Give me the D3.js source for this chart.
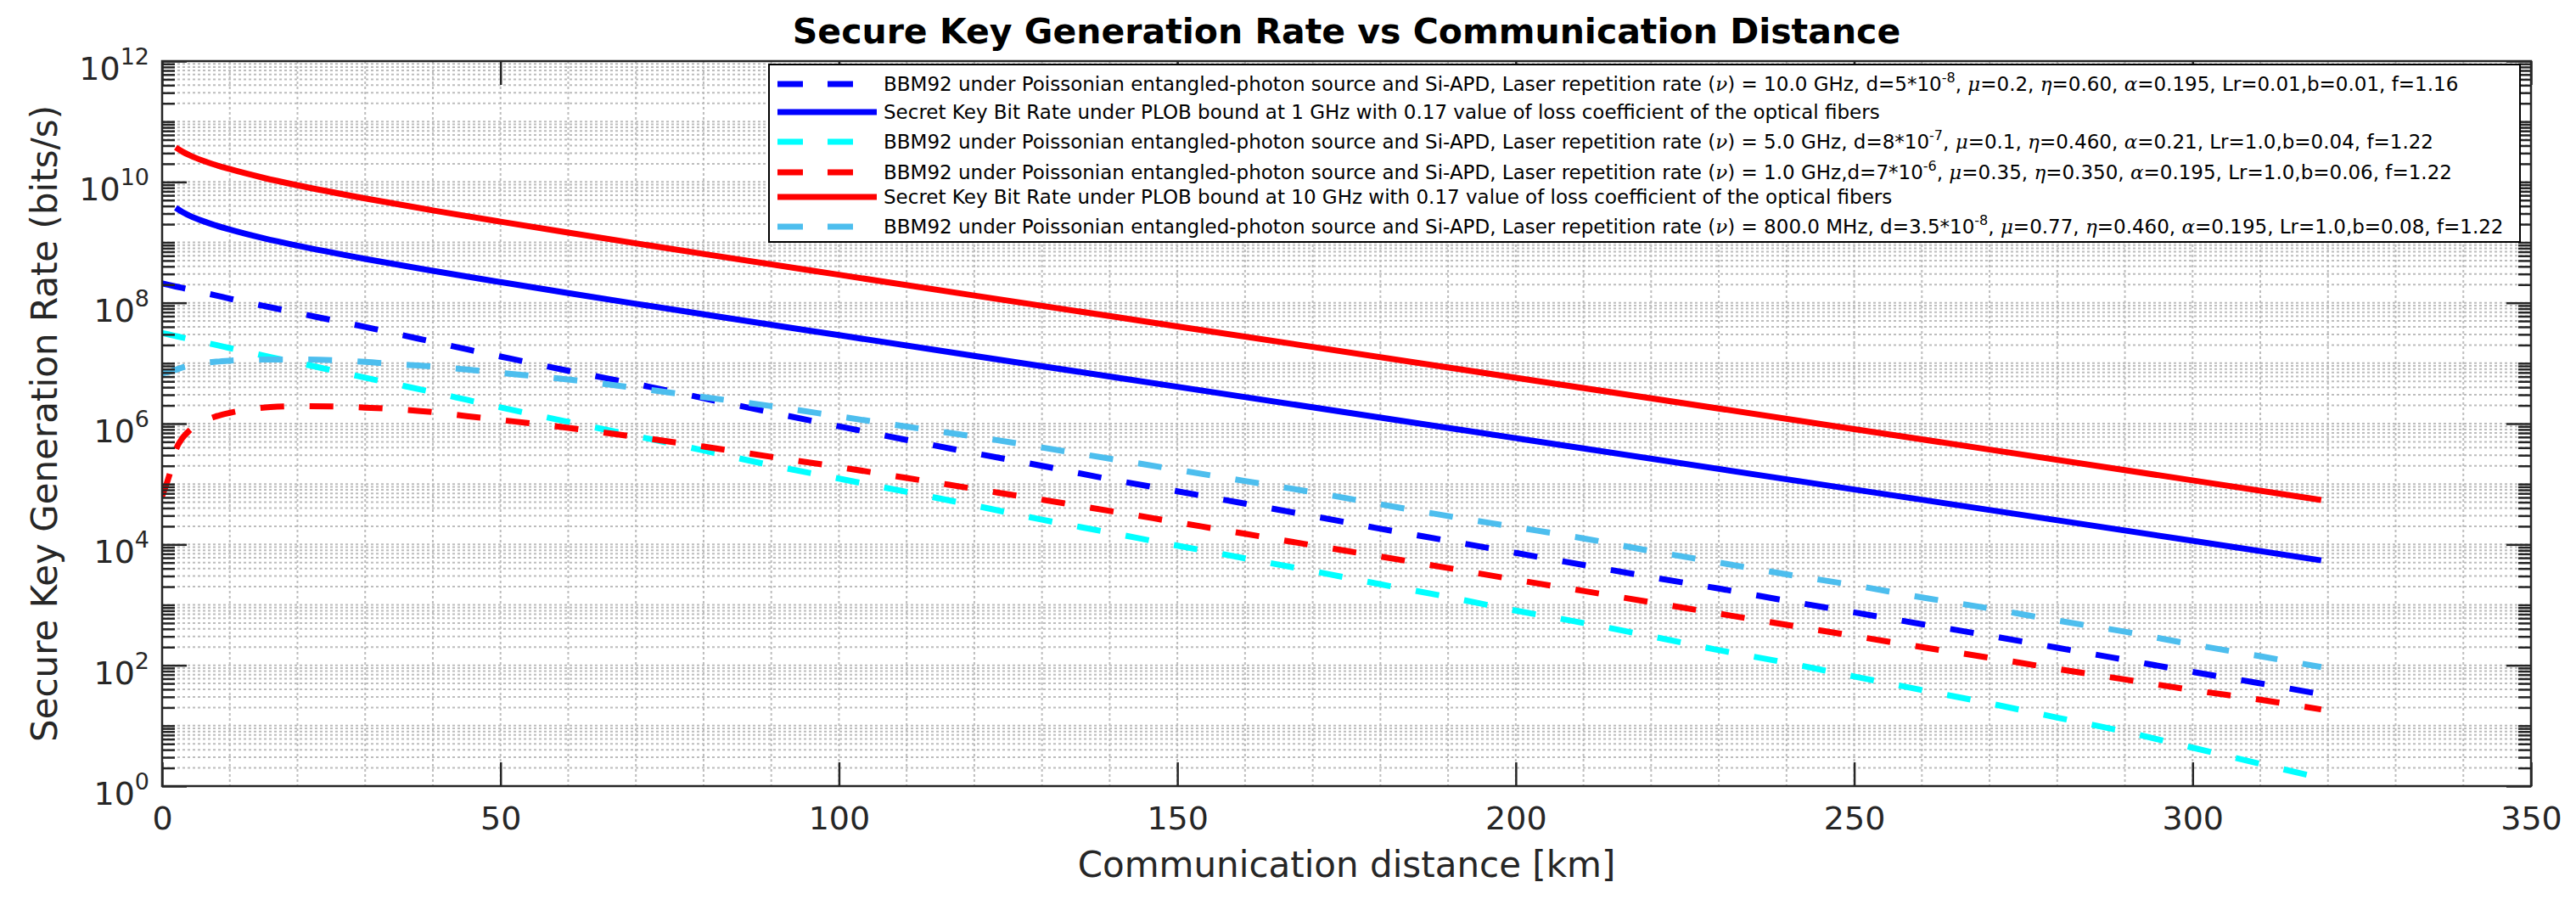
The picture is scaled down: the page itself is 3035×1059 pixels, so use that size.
<!DOCTYPE html>
<html>
<head>
<meta charset="utf-8">
<script src="https://cdn.jsdelivr.net/npm/d3@7"></script>
<style>
body{margin:0;background:#fff}
svg{display:block}
</style>
</head>
<body>
<script>
// distances (km) where the BBM92 curves were read
var distKm = [0,1,2,3,4,6,8,10,13,16,20,25,30,35,40,45,50,60,70,80,90,100,110,120,130,140,150,160,170,180,190,200,210,220,230,240,250,260,270,280,290,300,310,319];

// BBM92, 10.0 GHz (blue dashed)
var bbm10GHz = [2.09e8,1.97e8,1.86e8,1.76e8,1.66e8,1.48e8,1.32e8,1.17e8,9.89e7,8.41e7,6.76e7,5.19e7,3.98e7,2.99e7,2.26e7,1.70e7,
  1.29e7,7.50e6,4.52e6,2.63e6,1.53e6,9.02e5,5.37e5,3.24e5,2.00e5,1.20e5,7.59e4,4.73e4,2.95e4,1.82e4,1.15e4,7.24e3,4.57e3,2.88e3,1.86e3,1.17e3,750,479,309,195,123,77.6,50.1,33.1];
// BBM92, 5.0 GHz (cyan dashed)
var bbm5GHz = [3.16e7,2.99e7,2.82e7,2.66e7,2.51e7,2.24e7,2.00e7,1.78e7,1.50e7,1.26e7,1.02e7,7.67e6,5.75e6,4.37e6,3.31e6,2.48e6,
  1.86e6,1.07e6,6.24e5,3.59e5,2.04e5,1.23e5,7.41e4,4.42e4,2.57e4,1.57e4,9.55e3,5.89e3,3.63e3,2.19e3,1.35e3,804,501,302,178,110,65.3,38.9,23.4,13.6,7.94,4.32,2.34,1.35];
// BBM92, 1.0 GHz (red dashed)
var bbm1GHz = [6.31e4,1.32e5,3.63e5,5.75e5,7.59e5,1.07e6,1.32e6,1.51e6,1.74e6,1.88e6,1.95e6,1.93e6,1.84e6,1.72e6,1.55e6,1.33e6,
  1.15e6,8.51e5,6.03e5,4.17e5,2.82e5,1.91e5,1.26e5,8.32e4,5.50e4,3.59e4,2.32e4,1.50e4,9.66e3,6.31e3,4.07e3,2.60e3,1.70e3,1.10e3,716,468,305,200,133,87.1,58.2,38.9,26.9,18.6];
// BBM92, 800.0 MHz (light blue dashed)
var bbm800MHz = [6.76e6,7.16e6,7.76e6,8.51e6,9.12e6,1.00e7,1.06e7,1.10e7,1.14e7,1.15e7,1.15e7,1.12e7,1.05e7,9.55e6,8.81e6,7.85e6,
  6.92e6,5.37e6,3.89e6,2.75e6,1.95e6,1.32e6,8.91e5,6.10e5,4.03e5,2.63e5,1.72e5,1.12e5,7.33e4,4.62e4,2.95e4,1.93e4,1.26e4,7.76e3,5.01e3,3.20e3,2.11e3,1.33e3,871,550,359,221,141,93.3];

// PLOB bound curves
var plobKm = [2,3,4,5,7,10,15,20,30,40,50,60,70,80,100,120,150,200,250,300,319];
var plob1GHz = [3.73e9,3.18e9,2.79e9,2.49e9,2.06e9,1.63e9,1.17e9,8.81e8,5.33e8,3.38e8,2.20e8,1.45e8,9.63e7,6.44e7,2.91e7,1.32e7,4.07e6,5.74e5,8.11e4,1.15e4,5.45e3];
var plob10GHz = [3.73e10,3.18e10,2.79e10,2.49e10,2.06e10,1.63e10,1.17e10,8.81e9,5.33e9,3.38e9,2.20e9,1.45e9,9.63e8,6.44e8,2.91e8,1.32e8,4.07e7,5.74e6,8.11e5,1.15e5,5.45e4];

var xTicks = [0,50,100,150,200,250,300,350];
var yTickExps = [0,2,4,6,8,10,12];

var legendLabels = [
  "BBM92 under Poissonian entangled-photon source and Si-APD, Laser repetition rate (ν) = 10.0 GHz, d=5*10^{-8}, μ=0.2, η=0.60, α=0.195, Lr=0.01,b=0.01, f=1.16",
  "Secret Key Bit Rate under PLOB bound at 1 GHz with 0.17 value of loss coefficient of the optical fibers",
  "BBM92 under Poissonian entangled-photon source and Si-APD, Laser repetition rate (ν) = 5.0 GHz, d=8*10^{-7}, μ=0.1, η=0.460, α=0.21, Lr=1.0,b=0.04, f=1.22",
  "BBM92 under Poissonian entangled-photon source and Si-APD, Laser repetition rate (ν) = 1.0 GHz,d=7*10^{-6}, μ=0.35, η=0.350, α=0.195, Lr=1.0,b=0.06, f=1.22",
  "Secret Key Bit Rate under PLOB bound at 10 GHz with 0.17 value of loss coefficient of the optical fibers",
  "BBM92 under Poissonian entangled-photon source and Si-APD, Laser repetition rate (ν) = 800.0 MHz, d=3.5*10^{-8}, μ=0.77, η=0.460, α=0.195, Lr=1.0,b=0.08, f=1.22"
];

var W = 3035, H = 1059;
var L = 191, R = 2982, T = 72, B = 926;
var axisColor = "#262626";

var svg = d3.select("body").append("svg").attr("width", W).attr("height", H);

var x = d3.scaleLinear().domain([0, 350]).range([L, R]);
var y = d3.scaleLog().domain([1, 1e12]).range([B, T]);

// grid
var yMinor = [];
for (var k = 0; k < 12; k++) {
  for (var m = 1; m <= 9; m++) {
    if (k === 0 && m === 1) continue;
    yMinor.push(m * Math.pow(10, k));
  }
}
var xMinor = d3.range(10, 350, 10);

var grid = svg.append("g").attr("stroke", "#bdbdbd").attr("stroke-width", 2).attr("stroke-dasharray", "3,3");
grid.selectAll("line.gy").data(yMinor).enter().append("line")
  .attr("x1", L).attr("x2", R)
  .attr("y1", function(d){ return y(d); }).attr("y2", function(d){ return y(d); });
grid.selectAll("line.gx").data(xMinor).enter().append("line")
  .attr("y1", T).attr("y2", B)
  .attr("x1", function(d){ return x(d); }).attr("x2", function(d){ return x(d); });

// curves
svg.append("clipPath").attr("id", "clip").append("rect")
  .attr("x", L).attr("y", T).attr("width", R - L).attr("height", B - T);

var series = [
  {km: distKm, v: bbm10GHz, color: "#0000ff", dash: true},
  {km: plobKm, v: plob1GHz, color: "#0000ff", dash: false},
  {km: distKm, v: bbm5GHz, color: "#00ffff", dash: true},
  {km: distKm, v: bbm1GHz, color: "#ff0000", dash: true},
  {km: plobKm, v: plob10GHz, color: "#ff0000", dash: false},
  {km: distKm, v: bbm800MHz, color: "#4dbeee", dash: true}
];

var line = d3.line()
  .x(function(d){ return x(d[0]); })
  .y(function(d){ return y(d[1]); })
  .curve(d3.curveMonotoneX);

var plot = svg.append("g").attr("clip-path", "url(#clip)");
series.forEach(function(s){
  var pts = s.km.map(function(k, i){ return [k, s.v[i]]; });
  plot.append("path")
    .attr("d", line(pts))
    .attr("fill", "none")
    .attr("stroke", s.color)
    .attr("stroke-width", 7)
    .attr("stroke-dasharray", s.dash ? "28,30" : null);
});

// axes box and ticks
var yMajor = yTickExps.map(function(e){ return Math.pow(10, e); });
var yMinorTicks = yMinor.filter(function(v){ return yMajor.indexOf(v) < 0; });

function styleAxis(g) {
  g.select(".domain").remove();
  g.selectAll("line").attr("stroke", axisColor).attr("stroke-width", 2.5);
}

svg.append("g").attr("transform", "translate(" + L + ",0)")
  .call(d3.axisLeft(y).tickValues(yMajor).tickSize(-29).tickFormat("")).call(styleAxis);
svg.append("g").attr("transform", "translate(" + L + ",0)")
  .call(d3.axisLeft(y).tickValues(yMinorTicks).tickSize(-15).tickFormat("")).call(styleAxis);
svg.append("g").attr("transform", "translate(" + R + ",0)")
  .call(d3.axisRight(y).tickValues(yMajor).tickSize(-29).tickFormat("")).call(styleAxis);
svg.append("g").attr("transform", "translate(" + R + ",0)")
  .call(d3.axisRight(y).tickValues(yMinorTicks).tickSize(-15).tickFormat("")).call(styleAxis);
svg.append("g").attr("transform", "translate(0," + T + ")")
  .call(d3.axisTop(x).tickValues(xTicks).tickSize(-28).tickFormat("")).call(styleAxis);

var xAxis = svg.append("g").attr("transform", "translate(0," + B + ")")
  .call(d3.axisBottom(x).tickValues(xTicks).tickSize(-28).tickPadding(24));
xAxis.call(styleAxis);
xAxis.selectAll("text")
  .attr("fill", axisColor)
  .attr("font-family", "DejaVu Sans")
  .attr("font-size", 38);

svg.append("rect")
  .attr("x", L).attr("y", T).attr("width", R - L).attr("height", B - T)
  .attr("fill", "none").attr("stroke", axisColor).attr("stroke-width", 2.5);

// y tick labels 10^n
var yl = svg.append("g").attr("font-family", "DejaVu Sans").attr("fill", axisColor);
yTickExps.forEach(function(e){
  var t = yl.append("text")
    .attr("x", 176)
    .attr("y", y(Math.pow(10, e)) + 22)
    .attr("text-anchor", "end")
    .attr("font-size", 38);
  t.append("tspan").text("10");
  t.append("tspan").attr("dy", -18).attr("font-size", 27).text(e);
});

// labels
svg.append("text")
  .attr("x", (L + R) / 2).attr("y", 1033)
  .attr("text-anchor", "middle")
  .attr("font-family", "DejaVu Sans").attr("font-size", 42).attr("fill", axisColor)
  .text("Communication distance [km]");

svg.append("text")
  .attr("transform", "translate(67," + ((T + B) / 2) + ") rotate(-90)")
  .attr("text-anchor", "middle")
  .attr("font-family", "DejaVu Sans").attr("font-size", 42).attr("fill", axisColor)
  .text("Secure Key Generation Rate (bits/s)");

svg.append("text")
  .attr("x", (L + R) / 2).attr("y", 51)
  .attr("text-anchor", "middle")
  .attr("font-family", "DejaVu Sans").attr("font-weight", "bold").attr("font-size", 41).attr("fill", "#000")
  .text("Secure Key Generation Rate vs Communication Distance");

// legend
var legRows = [99, 132, 167, 203, 232, 267];
var leg = svg.append("g");
leg.append("rect")
  .attr("x", 906).attr("y", 76).attr("width", 2969 - 906).attr("height", 285 - 76)
  .attr("fill", "#fff").attr("stroke", "#000").attr("stroke-width", 2);

function addRich(sel, str) {
  var parts = str.split(/(\^\{[^}]*\}|[νμηα])/);
  var back = 0;
  parts.forEach(function(p){
    if (!p) return;
    if (p.charAt(0) === "^") {
      sel.append("tspan").attr("dy", -10).attr("font-size", 16).text(p.slice(2, -1));
      back = 10;
    } else {
      var t = sel.append("tspan").text(p);
      if (back) { t.attr("dy", back); back = 0; }
      if (/[νμηα]/.test(p)) t.attr("font-style", "italic").attr("font-family", "DejaVu Serif");
    }
  });
}

series.forEach(function(s, i){
  var yy = legRows[i];
  leg.append("line")
    .attr("x1", 916).attr("x2", 1033).attr("y1", yy).attr("y2", yy)
    .attr("stroke", s.color).attr("stroke-width", 7)
    .attr("stroke-dasharray", s.dash ? "30,29" : null);
  var t = leg.append("text")
    .attr("x", 1041).attr("y", yy + 8)
    .attr("font-family", "DejaVu Sans").attr("font-size", 23).attr("fill", "#000");
  addRich(t, legendLabels[i]);
});
</script>
</body>
</html>
